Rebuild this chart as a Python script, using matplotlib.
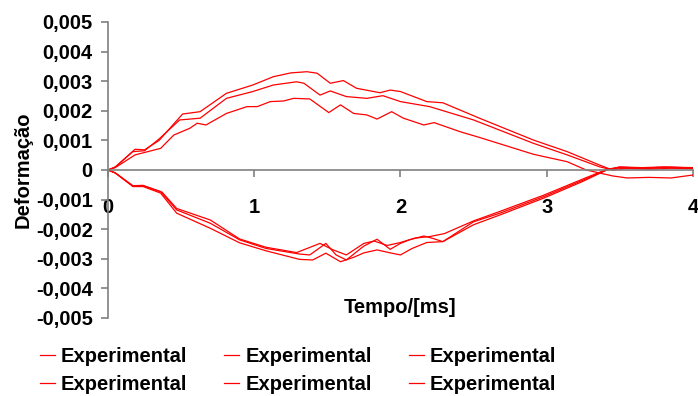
import numpy as np
import matplotlib
matplotlib.use("Agg")
import matplotlib.pyplot as plt

# -------------------------------
# Data, deformation in 1e-3 units
# -------------------------------
t_a = [0, 0.05, 0.185, 0.25, 0.35, 0.51, 0.63, 0.81, 0.99, 1.13, 1.25, 1.36, 1.43, 1.52, 1.61, 1.70,
       1.86, 1.93, 2.0, 2.18, 2.29, 2.54, 2.91, 3.14, 3.36, 3.45, 3.55, 3.7, 3.85, 4.0]
y_a = [0, 0.1, 0.70, 0.68, 1.0, 1.89, 1.97, 2.59, 2.87, 3.15, 3.28, 3.32, 3.27, 2.93, 3.02, 2.76,
       2.61, 2.70, 2.65, 2.31, 2.27, 1.75, 1.01, 0.62, 0.17, 0.0, 0.08, 0.06, 0.09, 0.06]

t_b = [0, 0.05, 0.17, 0.25, 0.35, 0.49, 0.63, 0.81, 0.99, 1.13, 1.29, 1.34, 1.45, 1.52, 1.63, 1.77,
       1.88, 2.0, 2.2, 2.5, 2.91, 3.14, 3.36, 3.45, 3.55, 3.7, 3.85, 4.0]
y_b = [0, 0.1, 0.62, 0.65, 1.05, 1.69, 1.75, 2.42, 2.65, 2.87, 2.98, 2.93, 2.53, 2.67, 2.48, 2.42,
       2.51, 2.31, 2.14, 1.69, 0.90, 0.51, 0.11, 0.0, 0.05, 0.02, 0.06, 0.04]

t_c = [0, 0.05, 0.185, 0.36, 0.45, 0.56, 0.61, 0.67, 0.81, 0.95, 1.02, 1.11, 1.20, 1.27, 1.38, 1.51,
       1.59, 1.68, 1.77, 1.84, 1.94, 2.02, 2.16, 2.23, 2.41, 2.54, 2.91, 3.14, 3.27, 3.36, 3.45,
       3.55, 3.7, 3.85, 4.0]
y_c = [0, 0.08, 0.51, 0.73, 1.18, 1.41, 1.58, 1.52, 1.91, 2.14, 2.14, 2.31, 2.33, 2.42, 2.40, 1.94,
       2.20, 1.91, 1.86, 1.72, 1.97, 1.75, 1.52, 1.60, 1.29, 1.10, 0.53, 0.28, 0.0, -0.10, -0.20,
       -0.27, -0.25, -0.27, -0.17]

t_d = [0, 0.05, 0.17, 0.24, 0.36, 0.47, 0.70, 0.90, 1.08, 1.31, 1.40, 1.49, 1.59, 1.68, 1.75, 1.84,
       1.93, 2.0, 2.08, 2.18, 2.29, 2.50, 2.68, 2.98, 3.25, 3.41, 3.5, 3.65, 3.8, 4.0]
y_d = [0, -0.1, -0.56, -0.56, -0.78, -1.46, -1.97, -2.46, -2.73, -3.02, -3.04, -2.81, -3.10, -2.95,
       -2.80, -2.70, -2.80, -2.87, -2.65, -2.45, -2.42, -1.85, -1.52, -0.95, -0.38, 0.0, 0.08, 0.05,
       0.08, 0.05]

t_e = [0, 0.05, 0.17, 0.24, 0.36, 0.47, 0.70, 0.90, 1.08, 1.31, 1.38, 1.49, 1.56, 1.63, 1.75, 1.84,
       1.93, 2.0, 2.06, 2.16, 2.22, 2.29, 2.50, 2.68, 2.98, 3.25, 3.41, 3.5, 3.65, 3.8, 4.0]
y_e = [0, -0.1, -0.54, -0.53, -0.73, -1.35, -1.80, -2.36, -2.65, -2.84, -2.87, -2.48, -2.87, -3.04,
       -2.57, -2.34, -2.68, -2.48, -2.36, -2.23, -2.31, -2.42, -1.75, -1.46, -0.90, -0.34, 0.0, 0.1,
       0.06, 0.1, 0.07]

t_f = [0, 0.05, 0.17, 0.24, 0.37, 0.47, 0.70, 0.90, 1.08, 1.29, 1.45, 1.54, 1.63, 1.75, 1.82, 1.91,
       2.0, 2.1, 2.2, 2.3, 2.5, 2.68, 2.98, 3.25, 3.41, 3.5, 3.65, 3.8, 4.0]
y_f = [0, -0.1, -0.53, -0.52, -0.75, -1.30, -1.69, -2.33, -2.61, -2.79, -2.48, -2.70, -2.87, -2.48,
       -2.40, -2.55, -2.45, -2.30, -2.25, -2.15, -1.72, -1.40, -0.85, -0.30, 0.02, 0.1, 0.08, 0.1, 0.08]

series = [(t_a, y_a), (t_b, y_b), (t_c, y_c), (t_d, y_d), (t_e, y_e), (t_f, y_f)]
labels = ["Experimental"] * 6

x_ticks = [0, 1, 2, 3, 4]
y_ticks = [-0.005, -0.004, -0.003, -0.002, -0.001, 0, 0.001, 0.002, 0.003, 0.004, 0.005]
y_tick_labels = ["-0,005", "-0,004", "-0,003", "-0,002", "-0,001", "0",
                 "0,001", "0,002", "0,003", "0,004", "0,005"]

# -------------------------------
# Plot
# -------------------------------
plt.rcParams["font.family"] = "Liberation Sans"
plt.rcParams["font.weight"] = "bold"
fs = 14.5

fig = plt.figure(figsize=(6.98, 3.96), dpi=100)
ax = fig.add_axes([0.1547, 0.197, 0.838, 0.7475])

for (t, y), lab in zip(series, labels):
    ax.plot(t, np.array(y) * 1e-3, color="#ff0000", linewidth=0.9, label=lab)

ax.set_xlim(0, 4)
ax.set_ylim(-0.005, 0.005)

gray = "#808080"
ax.spines["top"].set_visible(False)
ax.spines["right"].set_visible(False)
ax.spines["bottom"].set_position(("data", 0))
ax.spines["left"].set_color(gray)
ax.spines["bottom"].set_color(gray)
ax.spines["left"].set_linewidth(1.2)
ax.spines["bottom"].set_linewidth(1.2)

ax.set_xticks(x_ticks)
ax.set_xticklabels([str(v) for v in x_ticks])
ax.set_yticks(y_ticks)
ax.set_yticklabels(y_tick_labels)
ax.tick_params(axis="both", colors=gray, labelcolor="black", labelsize=fs,
               length=5, width=1.2, direction="out")
ax.tick_params(axis="x", pad=15)
ax.tick_params(axis="y", pad=6)

ax.set_ylabel("Deformação", fontsize=fs, fontweight="bold")
ax.yaxis.set_label_coords(-0.128, 0.5)
ax.set_xlabel("Tempo/[ms]", fontsize=fs, fontweight="bold")
ax.xaxis.set_label_coords(0.5, 0.066)

fig.legend(loc="upper left", bbox_to_anchor=(0.057, 0.123), ncol=3, frameon=False,
           fontsize=fs, handlelength=0.75, handletextpad=0.3, columnspacing=1.84,
           labelspacing=0.42, borderpad=0, borderaxespad=0)

plt.savefig("out.png", dpi=100)
plt.close()
